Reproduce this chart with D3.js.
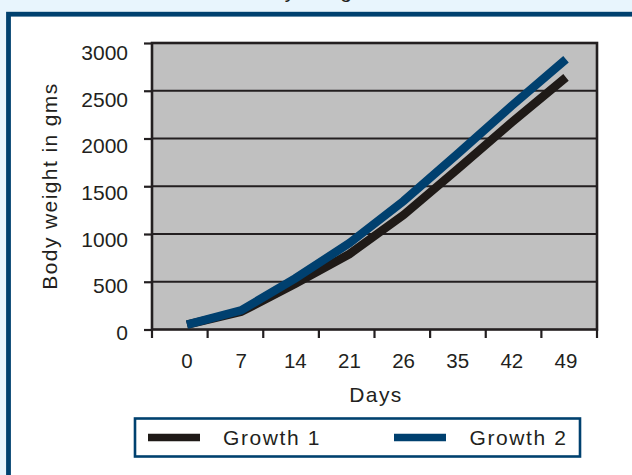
<!DOCTYPE html>
<html>
<head>
<meta charset="utf-8">
<script src="https://cdn.jsdelivr.net/npm/d3@7"></script>
<style>
  html, body { margin: 0; padding: 0; background: #E8F5FD; }
  svg { display: block; }
  text { font-family: "Liberation Sans", Arial, sans-serif; fill: #231F20; }
</style>
</head>
<body>
<svg id="chart" width="632" height="475"></svg>
<script>
// ---- data ----
const days = ["0", "7", "14", "21", "26", "35", "42", "49"];
const growth1 = [50, 185, 480, 790, 1200, 1680, 2170, 2640];
const growth2 = [50, 200, 535, 905, 1345, 1840, 2345, 2830];
const yTickValues = [0, 500, 1000, 1500, 2000, 2500, 3000];
const seriesNames = ["Growth 1", "Growth 2"];
const seriesColors = ["#1F1A17", "#00406F"];
const titleText = "Body weight";
const yTitle = "Body weight  in gms";
const xTitle = "Days";

// ---- layout ----
const W = 632, H = 475;
const plot = { left: 152, right: 597, top: 43, bottom: 329.5 };
const svg = d3.select("#chart");

// background + frame
svg.append("rect").attr("x", 0).attr("y", 0).attr("width", W).attr("height", H).attr("fill", "#E8F5FD");
svg.append("rect").attr("x", 8.5).attr("y", 14.2).attr("width", 700).attr("height", 600)
  .attr("fill", "#FFFFFF").attr("stroke", "#00416F").attr("stroke-width", 4.8);

// clipped title (only descenders visible in the reference)
svg.append("text").attr("x", 243).attr("y", -2.3).attr("font-size", 21)
  .attr("letter-spacing", 1.5).text(titleText);

// scales
const y = d3.scaleLinear().domain([0, 3000]).range([plot.bottom, plot.top]);
const yLabel = d3.scaleLinear().domain([0, 3000]).range([340, 60]);
const xBand = d3.scaleBand().domain(days).range([plot.left, plot.right]);
const xPoint = d3.scalePoint().domain(days).range([187, 566]);

// plot area
svg.append("rect").attr("x", plot.left).attr("y", plot.top)
  .attr("width", plot.right - plot.left).attr("height", plot.bottom - plot.top)
  .attr("fill", "#C0C0C0");

// gridlines
svg.append("g").selectAll("line").data(yTickValues.filter(v => v > 0)).join("line")
  .attr("x1", plot.left).attr("x2", plot.right)
  .attr("y1", d => y(d)).attr("y2", d => y(d))
  .attr("stroke", "#231F20").attr("stroke-width", 2);

// y axis ticks
const yAxis = d3.axisLeft(y).tickValues(yTickValues).tickSize(8).tickFormat("");
const gy = svg.append("g").attr("transform", `translate(${plot.left},0)`).call(yAxis);
gy.select(".domain").remove();
gy.selectAll("line").attr("stroke", "#231F20").attr("stroke-width", 2.2);

// y tick labels
svg.append("g").selectAll("text").data(yTickValues).join("text")
  .attr("x", 128).attr("y", d => yLabel(d))
  .attr("text-anchor", "end").attr("font-size", 21)
  .text(d => d);

// x axis ticks at category boundaries
const xTickPos = days.map(d => xBand(d)).concat([xBand.range()[1]]);
svg.append("g").selectAll("line").data(xTickPos).join("line")
  .attr("x1", d => d).attr("x2", d => d)
  .attr("y1", plot.bottom).attr("y2", plot.bottom + 8.5)
  .attr("stroke", "#231F20").attr("stroke-width", 2.2);

// x tick labels
svg.append("g").selectAll("text").data(days).join("text")
  .attr("x", d => xPoint(d)).attr("y", 367.5)
  .attr("text-anchor", "middle").attr("font-size", 20.5)
  .text(d => d);

// plot border
svg.append("rect").attr("x", plot.left).attr("y", plot.top)
  .attr("width", plot.right - plot.left).attr("height", plot.bottom - plot.top)
  .attr("fill", "none").attr("stroke", "#231F20").attr("stroke-width", 2.6);

// lines
const line = d3.line().x((d, i) => xPoint(days[i])).y(d => y(d));
[growth1, growth2].forEach((s, k) => {
  svg.append("path").datum(s).attr("d", line)
    .attr("fill", "none").attr("stroke", seriesColors[k])
    .attr("stroke-width", 8.5).attr("stroke-linejoin", "miter").attr("stroke-linecap", "butt");
});

// axis titles
svg.append("text").attr("x", 376).attr("y", 401.5).attr("text-anchor", "middle")
  .attr("font-size", 21).attr("letter-spacing", 1.4).text(xTitle);
svg.append("text").attr("transform", "translate(57,186) rotate(-90)")
  .attr("text-anchor", "middle").attr("font-size", 21).attr("letter-spacing", 1.4)
  .text(yTitle);

// legend
const lg = { x: 135, y: 418.5, w: 445, h: 38 };
svg.append("rect").attr("x", lg.x).attr("y", lg.y).attr("width", lg.w).attr("height", lg.h)
  .attr("fill", "#FFFFFF").attr("stroke", "#00416F").attr("stroke-width", 2.6);
const legendItems = [
  { name: seriesNames[0], color: seriesColors[0], lx: 148, tx: 223 },
  { name: seriesNames[1], color: seriesColors[1], lx: 394, tx: 469.5 }
];
const li = svg.append("g").selectAll("g").data(legendItems).join("g");
li.append("line").attr("x1", d => d.lx).attr("x2", d => d.lx + 52)
  .attr("y1", 437.5).attr("y2", 437.5)
  .attr("stroke", d => d.color).attr("stroke-width", 7.5);
li.append("text").attr("x", d => d.tx).attr("y", 445).attr("font-size", 21)
  .attr("letter-spacing", 1.6).text(d => d.name);
</script>
</body>
</html>
